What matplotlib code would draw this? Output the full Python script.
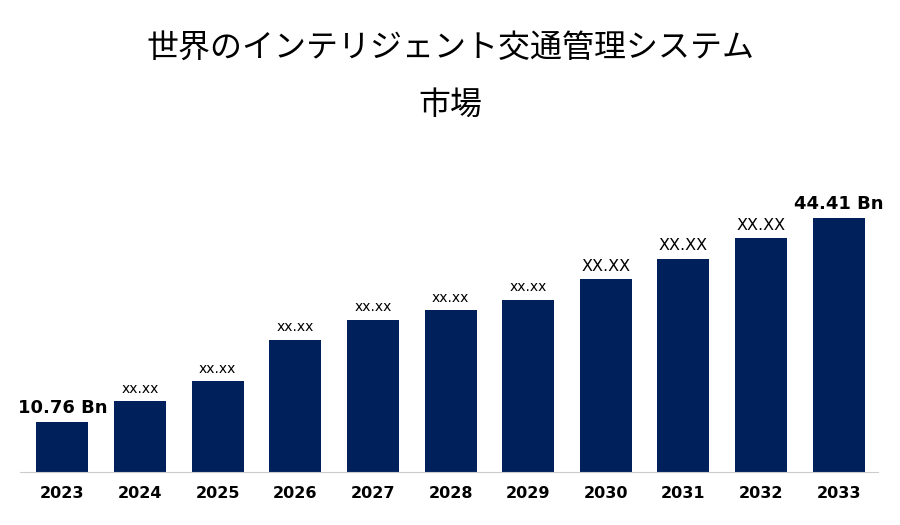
import matplotlib.pyplot as plt

years = ["2023", "2024", "2025", "2026", "2027", "2028", "2029", "2030", "2031", "2032", "2033"]
values = [10.76, 14.2, 17.5, 24.3, 27.6, 29.2, 30.9, 34.3, 37.7, 41.1, 44.41]
labels = ["10.76 Bn", "xx.xx", "xx.xx", "xx.xx", "xx.xx", "xx.xx", "xx.xx", "XX.XX", "XX.XX", "XX.XX", "44.41 Bn"]

color = "#00205b"
fig = plt.figure(figsize=(9, 5.25), dpi=100)
ax = fig.add_axes([0.022, 0.101, 0.953, 0.613])
x = range(len(years))
ax.bar(x, values, width=0.67, color=color)
ax.set_xlim(-0.55, 10.5)
ax.set_ylim(2.51, 55.6)

for i, (v, lab) in enumerate(zip(values, labels)):
    if "Bn" in lab:
        ax.text(i, v + 0.9, lab, ha="center", va="bottom", fontsize=13, fontweight="bold")
    elif lab.isupper():
        ax.text(i, v + 0.9, lab, ha="center", va="bottom", fontsize=11.5)
    else:
        ax.text(i, v + 0.9, lab, ha="center", va="bottom", fontsize=10)

ax.set_xticks(list(x))
ax.set_xticklabels(years, fontsize=11.5, fontweight="bold")
ax.tick_params(axis="x", length=0, pad=10)
ax.set_yticks([])
for s in ["top", "right", "left"]:
    ax.spines[s].set_visible(False)
ax.spines["bottom"].set_color("#cccccc")

fig.text(0.5, 0.91, "世界のインテリジェント交通管理システム", ha="center", va="center",
         fontsize=23, family="Noto Sans CJK JP")
fig.text(0.5, 0.80, "市場", ha="center", va="center", fontsize=23, family="Noto Sans CJK JP")

fig.savefig("out.png", dpi=100)
